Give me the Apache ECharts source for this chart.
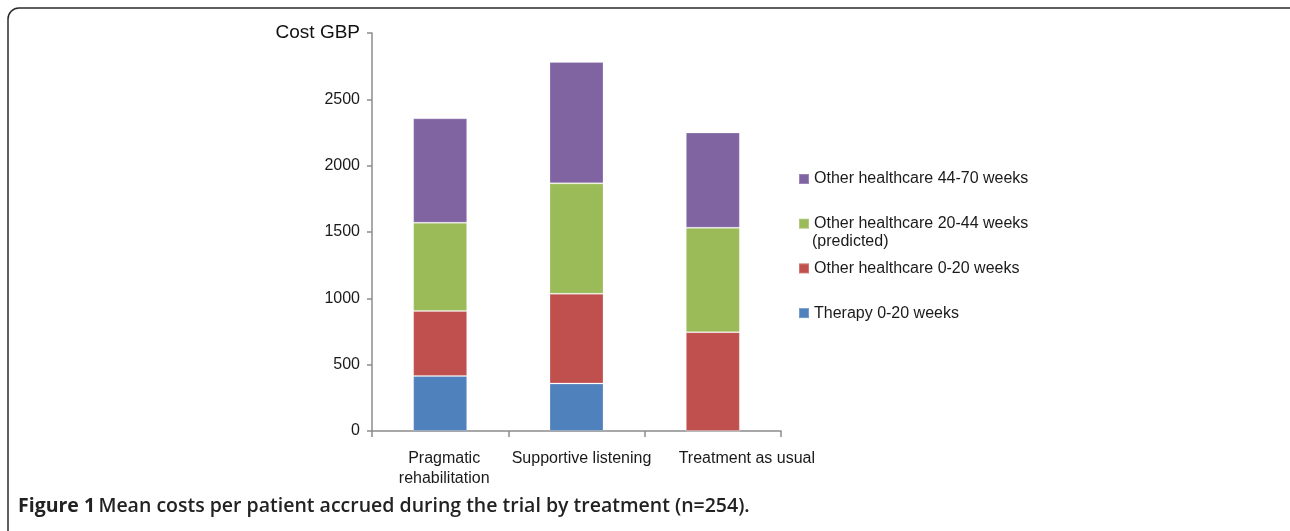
<!DOCTYPE html>
<html>
<head>
<meta charset="utf-8">
<script src="https://cdn.jsdelivr.net/npm/echarts@6/dist/echarts.min.js"></script>
<style>
  html, body { margin: 0; padding: 0; background: #fff; }
  #chart { width: 1290px; height: 531px; }
</style>
</head>
<body>
<div id="chart"></div>
<script>
var categories = ['Pragmatic\nrehabilitation', 'Supportive listening', 'Treatment as usual'];
var therapy = [415, 358, 0];
var other0to20 = [490, 677, 745];
var other20to44 = [665, 832, 787];
var other44to70 = [787, 915, 718];
var yTicks = [0, 500, 1000, 1500, 2000, 2500, 3000];

var names = [
  'Therapy 0-20 weeks',
  'Other healthcare 0-20 weeks',
  'Other healthcare 20-44 weeks (predicted)',
  'Other healthcare 44-70 weeks'
];
var colors = ['#4f81bd', '#c0504d', '#9bbb59', '#8064a2'];
var axisGray = '#8c8c8c';
var font = 'Liberation Sans, Arial, sans-serif';

var chart = echarts.init(document.getElementById('chart'));

function bar(i, data) {
  return {
    name: names[i],
    type: 'bar',
    stack: 'cost',
    barWidth: 54,
    itemStyle: { color: colors[i], borderColor: 'rgba(255,255,255,0.22)', borderWidth: 1 },
    data: data
  };
}

// the labels sit a little right of the bars, the last one noticeably so
var labelStyle = { fontSize: 16, color: '#1a1a1a', lineHeight: 20, fontFamily: font };
var labelRich = {
  c0: Object.assign({ padding: [0, 0, 0, 8] }, labelStyle),
  c1: Object.assign({ padding: [0, 0, 0, 10] }, labelStyle),
  c2: Object.assign({ padding: [0, 0, 0, 68] }, labelStyle)
};

chart.setOption({
  animation: false,
  textStyle: { fontFamily: font },
  grid: { left: 372, top: 33, right: 509, bottom: 100 },
  legend: {
    orient: 'vertical',
    left: 798,
    top: 171,
    padding: 0,
    itemWidth: 10,
    itemHeight: 10,
    itemGap: 28.7,
    icon: 'rect',
    selectedMode: false,
    data: [names[3], names[2], names[1], names[0]],
    formatter: function (n) { return n.replace(' (predicted)', ''); },
    textStyle: { fontSize: 16, color: '#1a1a1a', fontFamily: font }
  },
  xAxis: {
    type: 'category',
    data: categories,
    axisLine: { lineStyle: { color: axisGray, width: 1.5 } },
    axisTick: { show: true, length: 6, lineStyle: { color: axisGray, width: 1.5 } },
    axisLabel: {
      color: '#1a1a1a',
      fontSize: 16,
      margin: 18,
      lineHeight: 20,
      interval: 0,
      formatter: function (v, i) {
        return v.split('\n').map(function (line) { return '{c' + i + '|' + line + '}'; }).join('\n');
      },
      rich: labelRich
    }
  },
  yAxis: {
    type: 'value',
    min: 0,
    max: 3000,
    interval: 500,
    splitLine: { show: false },
    axisLine: { show: true, lineStyle: { color: axisGray, width: 1.5 } },
    axisTick: { show: true, length: 5, lineStyle: { color: axisGray, width: 1.5 } },
    axisLabel: {
      color: '#1a1a1a',
      fontSize: 16,
      margin: 12,
      formatter: function (v) {
        return v === yTicks[yTicks.length - 1] ? '{t|Cost GBP}' : String(v);
      },
      rich: { t: { fontSize: 19, color: '#111', fontFamily: font } }
    }
  },
  graphic: [
    {
      type: 'rect',
      shape: { x: 8, y: 8, width: 1300, height: 535, r: 11 },
      style: { fill: 'none', stroke: '#2b2b2b', lineWidth: 1.5 },
      silent: true
    },
    {
      type: 'text',
      left: 812,
      top: 234,
      style: { text: '(predicted)', fontSize: 16, fill: '#1a1a1a', fontFamily: font }
    },
    {
      type: 'text',
      left: 18,
      top: 496,
      style: {
        text: '{b|Figure 1} {r|Mean costs per patient accrued during the trial by treatment (n=254).}',
        rich: {
          b: { fontSize: 19.5, fontWeight: 'bold', fill: '#222', fontFamily: 'Open Sans, sans-serif' },
          r: { fontSize: 19.5, fontWeight: 600, fill: '#222', fontFamily: 'Open Sans, sans-serif' }
        }
      }
    }
  ],
  series: [
    bar(0, therapy),
    bar(1, other0to20),
    bar(2, other20to44),
    bar(3, other44to70)
  ]
});
</script>
</body>
</html>
